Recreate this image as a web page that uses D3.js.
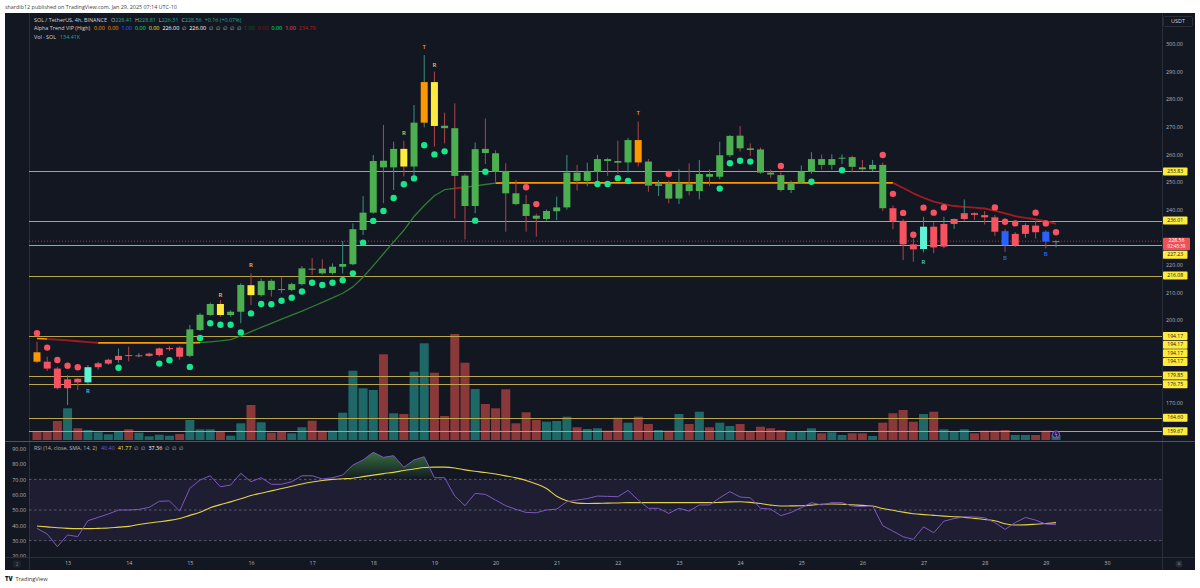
<!DOCTYPE html>
<html><head><meta charset="utf-8">
<script src="https://cdn.jsdelivr.net/npm/d3@7"></script>
<style>html,body{margin:0;padding:0;background:#fff;}svg{display:block;font-family:"Open Sans","Noto Sans",sans-serif;}</style>
</head><body><svg id="c" width="1200" height="588"></svg>
<script>
// ---------------- DATA ----------------
const openP = [188.3,184.9,182.4,175.3,178.7,177.4,182.9,184.2,185.5,187.3,
 187.0,187.0,187.3,189.6,190.0,187.0,196.4,201.8,205.8,201.8,
 203.0,212.6,209.0,214.2,211.2,210.9,213.0,218.6,218.6,217.0,
 219.3,220.2,232.6,238.9,257.7,255.3,262.0,255.6,271.5,286.2,
 270.4,269.5,252.3,241.3,262.0,260.4,254.0,245.9,242.0,237.8,
 236.6,239.4,240.8,253.4,250.4,253.7,258.3,257.6,257.1,265.2,
 257.4,248.6,249.5,244.0,249.2,246.7,252.9,251.9,259.7,266.8,
 262.2,261.8,253.4,252.5,247.1,249.8,253.7,258.3,256.2,258.6,
 259.0,255.3,254.6,256.2,240.5,235.9,227.4,225.7,233.8,226.6,
 234.8,236.6,238.7,238.0,237.2,232.2,227.1,231.2,234.2,232.0,
 228.41];
const highP = [192.1,186.7,183.0,180.0,179.0,183.7,184.8,186.0,189.7,190.3,
 188.0,188.2,190.0,190.5,190.6,198.2,202.5,206.3,207.2,203.5,
 213.3,216.9,215.0,214.8,215.5,213.5,219.5,222.4,222.0,220.5,
 228.6,235.0,244.9,259.8,270.7,264.6,264.9,277.9,296.0,290.0,
 275.1,278.5,253.0,264.3,273.0,261.5,256.8,250.7,245.3,238.5,
 240.0,244.7,259.8,256.2,257.0,259.8,258.8,265.0,266.0,271.9,
 258.3,250.7,250.5,254.6,256.8,258.0,254.5,264.6,267.0,270.3,
 264.0,262.5,254.5,253.5,250.5,256.0,260.8,260.0,260.0,260.0,
 259.5,258.0,258.0,257.0,241.5,236.5,229.5,237.4,235.5,237.4,
 236.8,243.7,239.0,239.5,238.0,233.0,231.8,235.0,236.0,232.5,
 228.81];
const lowP = [184.4,181.6,174.8,169.2,174.6,176.8,182.0,183.8,184.5,185.0,
 186.5,186.7,186.8,188.8,185.6,186.5,196.0,201.5,201.2,201.2,
 198.8,205.4,208.5,208.5,209.7,210.5,212.5,216.3,216.5,216.5,
 216.9,219.8,230.8,238.5,242.3,247.1,252.0,250.7,269.8,262.8,
 264.0,236.8,229.2,238.7,256.5,250.1,232.0,241.5,232.0,230.2,
 236.0,236.2,240.0,246.9,248.5,248.3,252.2,253.0,253.4,255.6,
 246.5,244.9,242.3,242.0,245.2,243.7,248.5,251.0,259.0,261.0,
 259.5,253.0,251.5,246.5,246.0,249.3,253.0,254.5,254.5,256.5,
 253.5,254.0,254.0,239.5,232.9,221.7,221.1,224.5,224.2,226.0,
 233.0,236.0,236.3,234.6,230.5,224.7,226.5,229.8,229.5,226.0,
 226.31];
const closeP = [184.9,182.4,175.3,178.5,177.4,182.9,184.3,185.6,187.0,187.0,
 187.2,187.8,189.7,189.8,186.7,196.6,201.9,205.8,201.8,203.0,
 212.7,209.0,214.1,210.9,211.0,213.0,218.7,218.5,216.9,219.3,
 220.3,232.9,238.9,257.6,255.3,262.0,255.6,271.5,286.2,270.3,
 269.5,252.2,241.3,261.9,260.5,253.7,245.9,242.0,237.7,236.7,
 239.5,240.8,253.4,250.4,254.0,258.3,257.6,257.0,265.2,257.1,
 248.7,249.2,244.0,249.5,246.7,252.9,251.9,259.7,266.7,262.2,
 261.6,253.4,252.7,247.1,249.8,253.7,258.3,256.2,258.3,258.8,
 255.5,254.6,256.2,240.5,235.9,227.4,225.6,233.8,226.3,234.8,
 236.6,238.7,238.1,237.2,232.0,227.1,231.2,234.4,231.8,228.4,
 228.56];
const volumeK = [224,224,513,856,316,270,208,154,235,289,
 197,100,143,116,162,540,289,289,243,116,
 451,945,478,197,224,181,343,521,251,251,
 737,1871,1396,1350,2314,721,702,1844,2611,1817,
 648,2862,2087,1377,972,856,1369,451,748,540,
 494,513,629,343,297,316,251,602,467,629,
 432,270,251,702,432,764,343,467,378,432,
 243,359,316,270,224,224,316,181,208,135,
 181,181,108,467,721,810,494,702,764,289,
 224,289,181,251,251,270,135,135,135,251,
 134.41];
// candle colour state of the trend indicator
const candleState = ['o','r','r','r','r','c','r','r','r','r',
 'r','r','r','r','r','g','g','g','y','g',
 'g','y','g','g','g','g','g','g','g','g',
 'g','g','g','g','g','g','y','g','o','y',
 'g','g','g','g','g','g','g','g','g','g',
 'g','g','g','g','g','g','g','g','g','o',
 'g','g','g','g','g','g','g','g','g','g',
 'g','g','g','g','g','g','g','g','g','g',
 'g','g','g','g','r','r','r','c','r','r',
 'r','r','r','r','r','b','r','r','r','b',
 'r'];
// trend line (one value per candle) and the colour of the segment leaving each candle
const trendLine = [193.3,193.1,192.9,192.6,192.3,192.0,191.7,191.7,191.7,191.7,
 191.7,191.7,191.7,191.7,191.7,191.7,191.8,192.1,192.4,192.9,
 194.2,195.8,197.3,198.8,200.3,201.8,203.2,204.8,206.4,208.0,
 209.7,212.0,215.5,219.7,224.0,228.3,232.5,237.5,241.5,245.0,
 247.2,247.7,248.1,248.6,249.1,249.6,249.7,249.7,249.7,249.7,
 249.7,249.7,249.7,249.7,249.7,249.7,249.7,249.7,249.7,249.7,
 249.7,249.7,249.7,249.7,249.7,249.7,249.7,249.7,249.7,249.7,
 249.7,249.7,249.7,249.7,249.7,249.7,249.7,249.7,249.7,249.7,
 249.7,249.7,249.7,249.7,249.7,247.8,245.9,244.3,242.9,242.0,
 241.3,241.0,240.7,240.4,239.6,238.6,237.6,237.0,236.5,235.8,
 234.79];
const trendSeg = ['o','r','r','r','r','r','o','o','o','o',
 'o','o','o','o','o','o','g','g','g','g',
 'g','g','g','g','g','g','g','g','g','g',
 'g','g','g','g','g','g','g','g','g','g',
 'g','r','g','g','g','o','o','o','o','o',
 'o','o','o','o','o','o','o','o','o','o',
 'o','o','o','o','o','o','o','o','o','o',
 'o','o','o','o','o','o','o','o','o','o',
 'o','o','o','o','r','r','r','r','r','r',
 'r','r','r','r','r','r','r','r','r','r'];
// trend dots
const dotIdx = [0,1,2,3,4, 8,12,13,15,16,17,18,19,20,21,22,23,24,25,26,27,28,29,30,31,32,33,34,35,36,37,38,39,40,43,44,
 48,49, 55,56,57,58, 62, 67,68,69,70, 73, 76,79, 83,84,85,86,87,88,89,94,95,96,98,99,100];
const dotVal = [195.2,190,185.5,183.4,182.9, 182.7,184.2,185.4,183,193.5,198.8,198.3,198.3,195.5,202.4,205.8,205.7,207,208.1,210.3,213.5,212.7,213.5,214.4,216.9,228,235.9,239.5,244.2,249.2,251.3,263.3,260,261.1,236,253.7,
 248.1,242, 249.3,249.3,251.4,250.4, 252.9, 247.6,256.8,257.7,257.4, 255.8, 250.1,254.3, 259.8,245.7,238.8,230.9,240.7,238.9,240.8,240.8,235.6,235,238.9,235,231.8];
const dotKind = ['r','r','r','r','r', 'g','g','g','g','g','g','g','g','g','g','g','g','g','g','g','g','g','g','g','g','g','g','g','g','g','g','g','g','g','g','g',
 'r','r', 'g','g','g','g', 'r', 'g','g','g','g', 'r', 'g','g', 'r','r','r','r','r','r','r','r','r','r','r','r','r'];
// letter signals
const sigIdx = [5,18,21,36,38,39,59,87,95,99];
const sigText = ['R','R','R','R','T','R','T','R','B','B'];
const sigVal = [174,209,219.9,267.6,298.8,292.4,274.9,220.9,222.4,223.6];
const sigKind = ['c','y','y','y','o','y','o','c','b','b'];
// horizontal levels
const levels = [253.83,236.01,227.23,216.08,194.17,194.17,194.17,194.17,179.85,176.75,164.60,159.67];
const lastPrice = 228.56, countdown = '02:45:39';
// RSI pane
const rsi = [38,34.3,26,33.7,32.6,43,45.2,47.4,50,50,
 50.4,51.7,55.7,55.9,49.3,64.2,69.6,72.4,65.2,66.3,
 74,68.5,71.1,66.8,66.8,68.5,72.4,72.4,70.3,71.1,
 72.9,79.4,82.7,87.7,84.4,85.5,77.9,82.7,84.8,71.1,
 71.1,59.1,52.8,60.9,60.2,56.5,52.8,50.4,48.4,48.2,
 50,50.6,55.4,56.5,57.5,59.1,58.9,58.7,62.8,56.5,
 51.1,51.1,47.8,51.1,49.3,53.3,53.3,58,62,58.5,
 58,51.1,50.6,46.3,48.4,51.5,54.8,53.3,54.8,54.8,
 52.6,52.2,52.8,39.7,36.2,32.5,30.8,39,35.1,42.7,
 44.4,45.5,45.5,44.9,41.8,37.3,41.8,45.1,43.4,40.8,
 40.4];
const rsiSma = [39.5,39,38.4,38,37.8,37.8,38,38.2,38.8,39.3,
 40.5,41.5,42.3,43.2,44.5,46.5,48.5,51.5,53.5,55.3,
 57.3,59.5,61,62.5,64,65.5,67,68.3,69.3,70,
 70.4,70.8,71.8,72.8,73.8,74.6,75.8,76.8,77.8,78,
 78,77.5,76.2,75.3,74.5,73.5,72.3,71,69.3,67,
 64,59,56,54.5,54.2,54.3,54.5,54.6,54.8,54.8,
 54.8,54.8,54.8,54.8,54.8,54.8,54.8,55,55.3,55.4,
 55,54.2,53.2,52.6,52.7,52.8,53.2,53.8,53.9,53.8,
 53.4,53,52.6,51,49.8,48.6,47.6,47,46.5,46,
 45.6,45.2,44.5,43.8,43,41,40.2,40.3,40.7,41.2,
 41.77];
const priceTicks = [160,170,180,190,200,210,220,230,240,250,260,270,280,290,300];
const rsiTicks = [20,30,40,50,60,70,80,90];
const rsiLevels = [70,50,30];
const ohlcLegend = ['228.41','228.81','226.31','228.56'];
const changeLegend = '+0.16 (+0.07%)';
const volLegend = '134.41K';
const rsiLegend = ['40.40','41.77','37.36'];

// ---------------- LAYOUT / STYLE ----------------
const L = 29, R = 1162, PT = 13, PB = 441, RB = 557.5, BOT = 570;
const COL = {g:'#4caf50', r:'#f7525f', o:'#ff9800', y:'#ffeb3b', c:'#5ef2d6', b:'#2962ff'};
const SIGCOL = {y:'#e6cd4b', o:'#ef9a2a', c:'#4fd3c4', b:'#2f6bf0'};
const TRCOL = {g:'#2e7d32', r:'#a31b20', o:'#ff9800'};
const FS = 5.4, AXC = '#b2b5be';

const svg = d3.select('#c');
const defs = svg.append('defs');
defs.append('clipPath').attr('id','cp').append('rect').attr('x',L).attr('y',PT).attr('width',R-L).attr('height',PB-PT);
defs.append('clipPath').attr('id','cr').append('rect').attr('x',L).attr('y',PB).attr('width',R-L).attr('height',RB-PB);

const times = openP.map((_,i)=> new Date(2025,0,12,12+4*i));
const x = d3.scaleTime().domain([times[0], times[times.length-1]]).range([37,1056]);
const y = d3.scaleLinear().domain([170,300]).range([402.8,44]);
const yv = d3.scaleLinear().domain([0,d3.max(volumeK)]).range([440,334]);
const yr = d3.scaleLinear().domain([10,90]).range([571.2,448.8]);
const step = x(times[1]) - x(times[0]);

// header text
svg.append('text').attr('x',5).attr('y',8.8).attr('font-size',5.4).attr('fill','#444')
  .text('shardib12 published on TradingView.com, Jan 29, 2025 07:14 UTC-10');

// frame
svg.append('rect').attr('x',5).attr('y',PT).attr('width',1190).attr('height',BOT-PT).attr('fill','#131722');
svg.append('line').attr('x1',L+0.5).attr('x2',L+0.5).attr('y1',PT).attr('y2',BOT).attr('stroke','#2a2e39');
svg.append('line').attr('x1',R+0.5).attr('x2',R+0.5).attr('y1',PT).attr('y2',BOT).attr('stroke','#2a2e39');
svg.append('line').attr('x1',5).attr('x2',1195).attr('y1',PB+0.5).attr('y2',PB+0.5).attr('stroke','#50535e').attr('stroke-width',1);
svg.append('line').attr('x1',5).attr('x2',1195).attr('y1',RB).attr('y2',RB).attr('stroke','#2a2e39');

// ---------------- PRICE PANE ----------------
const gp = svg.append('g').attr('clip-path','url(#cp)');
// volume
gp.selectAll('rect.vol').data(volumeK).join('rect')
  .attr('x',(d,i)=>x(times[i])-step/2+0.6).attr('width',step-1.2)
  .attr('y',d=>yv(d)).attr('height',d=>yv(0)-yv(d))
  .attr('fill',(d,i)=> closeP[i]>=openP[i] ? 'rgba(38,166,154,0.58)' : 'rgba(239,83,80,0.55)');
// levels
gp.selectAll('line.lv').data(levels).join('line')
  .attr('x1',L).attr('x2',R).attr('y1',d=>Math.round(y(d))+0.5).attr('y2',d=>Math.round(y(d))+0.5)
  .attr('stroke','#b9a54c').attr('stroke-width',1);
gp.append('line').attr('x1',L).attr('x2',R).attr('y1',y(lastPrice)).attr('y2',y(lastPrice))
  .attr('stroke','#f7525f').attr('stroke-opacity',0.6).attr('stroke-dasharray','1,2');
// trend line drawn as runs of equal colour
const runs = [];
trendSeg.forEach((c,i)=>{
  const last = runs[runs.length-1];
  if (last && last.c===c && last.end===i) last.end = i+1;
  else runs.push({c, start:i, end:i+1});
});
const tl = d3.line().x(i=>x(times[i])).y(i=>y(trendLine[i]));
runs.forEach(r=>{
  gp.append('path').attr('d', tl(d3.range(r.start, r.end+1))).attr('fill','none')
    .attr('stroke',TRCOL[r.c]).attr('stroke-width', r.c==='g'?1.3:(r.c==='o'?1.6:1.8)).attr('stroke-linejoin','round');
});
// candles
const cg = gp.selectAll('g.cd').data(openP).join('g');
cg.append('line').attr('x1',(d,i)=>x(times[i])).attr('x2',(d,i)=>x(times[i]))
  .attr('y1',(d,i)=>y(highP[i])).attr('y2',(d,i)=>y(lowP[i]))
  .attr('stroke',(d,i)=> closeP[i]>=openP[i] ? '#3b8f86' : '#b0444a').attr('stroke-width',1);
cg.append('rect').attr('x',(d,i)=>x(times[i])-3.5).attr('width',7)
  .attr('y',(d,i)=>y(Math.max(openP[i],closeP[i])))
  .attr('height',(d,i)=>Math.max(1,Math.abs(y(openP[i])-y(closeP[i]))))
  .attr('fill',(d,i)=>COL[candleState[i]]);
// dots
gp.selectAll('circle.dt').data(dotIdx).join('circle')
  .attr('cx',d=>x(times[d])).attr('cy',(d,k)=>y(dotVal[k])).attr('r',3.2)
  .attr('fill',(d,k)=> dotKind[k]==='g' ? '#19e68a' : '#f7525f');
// letters
gp.selectAll('text.sg').data(sigIdx).join('text')
  .attr('x',d=>x(times[d])).attr('y',(d,k)=>y(sigVal[k])).attr('text-anchor','middle')
  .attr('dominant-baseline','middle').attr('font-size',6).attr('font-weight',600)
  .attr('fill',(d,k)=>SIGCOL[sigKind[k]]).text((d,k)=>sigText[k]);
// small purple icon at last volume bar
gp.append('circle').attr('cx',x(times[100])).attr('cy',434.5).attr('r',3.6).attr('fill','#2a1d47').attr('stroke','#a259ff').attr('stroke-width',0.9);
gp.append('text').attr('x',x(times[100])).attr('y',434.7).attr('text-anchor','middle').attr('dominant-baseline','middle').attr('font-size',4.5).attr('fill','#d0b0ff').text('ϟ');

// label boxes with simple collision stacking
const BFS = 5.1;
const boxes = levels.map(v=>({v, c:y(v), h:8, top:y(v)-4, kind:'lv'}));
boxes.push({v:lastPrice, c:y(lastPrice), h:12.4, top:y(lastPrice)-3.4, kind:'last'});
boxes.sort((a,b)=>a.c-b.c);
let prevBottom = -1e9;
boxes.forEach(b=>{ if (b.top < prevBottom+0.6) b.top = prevBottom+0.6; prevBottom = b.top+b.h; });

// price axis (labels hidden where a price box covers them)
const visibleTicks = priceTicks.filter(t => !boxes.some(b => y(t) > b.top-3 && y(t) < b.top+b.h+3));
const pa = svg.append('g').attr('transform',`translate(${R+4},0)`)
  .call(d3.axisRight(y).tickValues(visibleTicks).tickSize(0).tickPadding(0).tickFormat(d3.format('.2f')));
pa.select('.domain').remove();
pa.selectAll('text').attr('fill',AXC).attr('font-size',FS).attr('font-family','"Open Sans",sans-serif');
// USDT box
svg.append('rect').attr('x',1163.5).attr('y',16.5).attr('width',29).attr('height',10).attr('fill','#131722').attr('stroke','#2a2e39').attr('rx',1);
svg.append('text').attr('x',1178).attr('y',21.8).attr('text-anchor','middle').attr('dominant-baseline','middle').attr('font-size',FS).attr('fill','#d1d4dc').text('USDT');

boxes.forEach(b=>{
  const g = svg.append('g');
  if (b.kind==='lv') {
    g.append('rect').attr('x',1163).attr('y',b.top).attr('width',24.5).attr('height',b.h).attr('fill','#ffeb3b').attr('rx',0.8);
    g.append('text').attr('x',1175.2).attr('y',b.top+b.h/2+0.2).attr('text-anchor','middle').attr('dominant-baseline','middle')
      .attr('font-size',BFS).attr('fill','#131722').text(d3.format('.2f')(b.v));
  } else {
    g.append('rect').attr('x',1163).attr('y',b.top).attr('width',27).attr('height',b.h).attr('fill','#f0505a').attr('rx',0.8);
    g.append('text').attr('x',1176.5).attr('y',b.top+3.3).attr('text-anchor','middle').attr('dominant-baseline','middle')
      .attr('font-size',BFS).attr('fill','#fff').text(d3.format('.2f')(b.v));
    g.append('text').attr('x',1176.5).attr('y',b.top+9.2).attr('text-anchor','middle').attr('dominant-baseline','middle')
      .attr('font-size',BFS-0.6).attr('fill','#fff').text(countdown);
  }
});

// legends
function legendRow(yy, parts){
  const t = svg.append('text').attr('x',34).attr('y',yy).attr('font-size',FS);
  parts.forEach((p,k)=> t.append('tspan').attr('dx', k===0?0:(p[2]===undefined?3:p[2])).attr('fill',p[1]).text(p[0]));
}
const TEAL='#26a69a', GREY='#b2b5be';
legendRow(21.8, [['SOL / TetherUS, 4h, BINANCE','#d1d4dc'],['O',GREY,4],[ohlcLegend[0],TEAL,0],['H',GREY],[ohlcLegend[1],TEAL,0],
  ['L',GREY],[ohlcLegend[2],TEAL,0],['C',GREY],[ohlcLegend[3],TEAL,0],[changeLegend,TEAL]]);
legendRow(30.2, [['Alpha Trend VIP (High)','#d1d4dc'],['0.00','#ff9800',4],['0.00','#ff9800'],['1.00','#2962ff'],['0.00','#00e676'],
  ['0.00','#ffeb3b'],['226.00','#ffffff'],['∅',GREY],['226.00','#ffffff'],['∅',GREY],['∅',GREY],['∅',GREY],['∅',GREY],['∅',GREY],
  ['1.00','#1b5e20'],['0.00','#801a1a'],['0.00','#00e676'],['1.00','#ff5252'],['234.79','#b71c1c']]);
legendRow(38.6, [['Vol · SOL','#d1d4dc'],[volLegend,TEAL,4]]);

// ---------------- RSI PANE ----------------
const gr = svg.append('g').attr('clip-path','url(#cr)');
gr.append('rect').attr('x',L).attr('width',R-L).attr('y',yr(70)).attr('height',yr(30)-yr(70)).attr('fill','rgba(126,87,194,0.10)');
gr.selectAll('line.rl').data(rsiLevels).join('line').attr('x1',L).attr('x2',R)
  .attr('y1',d=>yr(d)).attr('y2',d=>yr(d)).attr('stroke','rgba(140,143,154,0.55)').attr('stroke-dasharray','2.5,2.5');
const gGrad = defs.append('linearGradient').attr('id','gg').attr('gradientUnits','userSpaceOnUse').attr('x1',0).attr('x2',0).attr('y1',yr(100)).attr('y2',yr(70));
gGrad.append('stop').attr('offset',0).attr('stop-color','#4caf50').attr('stop-opacity',1);
gGrad.append('stop').attr('offset',1).attr('stop-color','#4caf50').attr('stop-opacity',0);
const rGrad = defs.append('linearGradient').attr('id','rg').attr('gradientUnits','userSpaceOnUse').attr('x1',0).attr('x2',0).attr('y1',yr(30)).attr('y2',yr(0));
rGrad.append('stop').attr('offset',0).attr('stop-color','#f7525f').attr('stop-opacity',0);
rGrad.append('stop').attr('offset',1).attr('stop-color','#f7525f').attr('stop-opacity',1);
defs.append('clipPath').attr('id','above70').append('rect').attr('x',L).attr('y',PB).attr('width',R-L).attr('height',yr(70)-PB);
defs.append('clipPath').attr('id','below30').append('rect').attr('x',L).attr('y',yr(30)).attr('width',R-L).attr('height',RB-yr(30));
gr.append('path').datum(rsi).attr('clip-path','url(#above70)')
  .attr('d',d3.area().x((d,i)=>x(times[i])).y0(yr(70)).y1(d=>yr(d))).attr('fill','url(#gg)');
gr.append('path').datum(rsi).attr('clip-path','url(#below30)')
  .attr('d',d3.area().x((d,i)=>x(times[i])).y0(yr(30)).y1(d=>yr(d))).attr('fill','url(#rg)');
gr.append('path').datum(rsiSma).attr('d',d3.line().x((d,i)=>x(times[i])).y(d=>yr(d)).curve(d3.curveMonotoneX))
  .attr('fill','none').attr('stroke','#e3d24c').attr('stroke-width',1.1);
gr.append('path').datum(rsi).attr('d',d3.line().x((d,i)=>x(times[i])).y(d=>yr(d)))
  .attr('fill','none').attr('stroke','#7e57c2').attr('stroke-width',1);

// RSI axis (left strip)
defs.append('clipPath').attr('id','cl').append('rect').attr('x',5).attr('y',PB+1).attr('width',24).attr('height',RB-PB-1.5);
const ra = svg.append('g').attr('clip-path','url(#cl)').append('g').attr('transform',`translate(${L-3},0)`)
  .call(d3.axisLeft(yr).tickValues(rsiTicks).tickSize(0).tickPadding(0).tickFormat(d3.format('.2f')));
ra.select('.domain').remove();
ra.selectAll('text').attr('fill',AXC).attr('font-size',FS).attr('font-family','"Open Sans",sans-serif');

legendRow(450, [['RSI (14, close, SMA, 14, 2)',GREY],[rsiLegend[0],'#7e57c2',4],[rsiLegend[1],'#ffeb3b'],['∅',GREY],['∅',GREY],
  [rsiLegend[2],'#ffffff'],['∅',GREY],['∅',GREY],['∅',GREY]]);

// ---------------- TIME AXIS ----------------
const dayTicks = d3.timeDay.range(x.invert(L), x.invert(R));
const ta = svg.append('g').attr('transform',`translate(0,${RB+2.5})`)
  .call(d3.axisBottom(x).tickValues(dayTicks).tickSize(0).tickPadding(1).tickFormat(d3.timeFormat('%-d')));
ta.select('.domain').remove();
ta.selectAll('text').attr('fill',AXC).attr('font-size',FS).attr('font-family','"Open Sans",sans-serif');
// small icons in axis corners
svg.append('rect').attr('x',13).attr('y',560.5).attr('width',8).attr('height',7).attr('rx',1.5).attr('fill','#1e222d');
svg.append('text').attr('x',17).attr('y',564.3).attr('text-anchor','middle').attr('dominant-baseline','middle').attr('font-size',4.6).attr('fill','#787b86').text('2');
svg.append('circle').attr('cx',1179).attr('cy',564).attr('r',3.4).attr('fill','#2a2e39');
svg.append('text').attr('x',1179).attr('y',564.3).attr('text-anchor','middle').attr('dominant-baseline','middle').attr('font-size',4).attr('fill','#787b86').text('A');

// footer logo
svg.append('text').attr('x',5).attr('y',580.5).attr('font-size',6).attr('font-weight',800).attr('fill','#131722').text('TV');
svg.append('text').attr('x',15.5).attr('y',580.5).attr('font-size',5.6).attr('fill','#333').text('TradingView');
</script></body></html>
